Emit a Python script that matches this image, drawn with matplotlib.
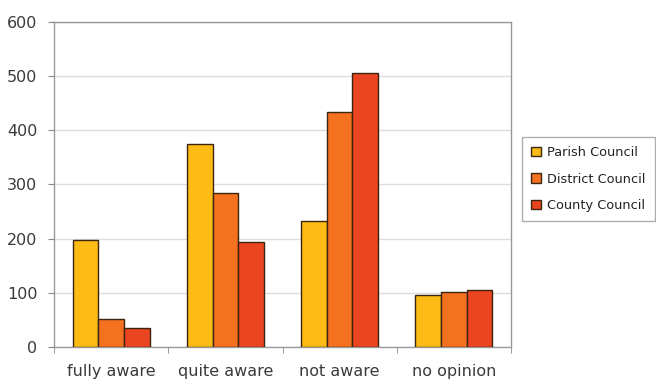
import matplotlib
matplotlib.use("Agg")
import matplotlib.pyplot as plt
import numpy as np

categories = ["fully aware", "quite aware", "not aware", "no opinion"]
series_names = ["Parish Council", "District Council", "County Council"]
parish = [198, 374, 233, 96]
district = [51, 285, 433, 102]
county = [35, 194, 506, 106]
yticks = [0, 100, 200, 300, 400, 500, 600]

colors = ["#FDBB16", "#F4711F", "#EA4420"]
edge = "#3B2410"

plt.rcParams['font.family'] = ['DejaVu Sans']

fig = plt.figure(figsize=(6.56, 3.83), dpi=100)
ax = fig.add_axes([54/656, 1-347/383, (511-54)/656, (347-22)/383])

x = np.arange(len(categories))
w = 0.225
for i, (vals, name) in enumerate(zip([parish, district, county], series_names)):
    ax.bar(x + (i-1)*w, vals, width=w, color=colors[i], edgecolor=edge,
           linewidth=1.0, label=name, zorder=3)

ax.set_xlim(-0.5, len(categories)-0.5)
ax.set_ylim(0, 600)
ax.set_yticks(yticks)
ax.set_yticklabels([str(v) for v in yticks], fontsize=11.5, color="#3a3a3a")
ax.set_xticks(x)
ax.set_xticklabels(categories, fontsize=11.5, color="#3a3a3a")
ax.set_xticks(np.arange(-0.5, len(categories)), minor=True)
ax.tick_params(axis='x', which='major', length=0, pad=12)
ax.tick_params(axis='x', which='minor', length=4, color="#888888")
ax.tick_params(axis='y', length=4, color="#888888", pad=8)
ax.yaxis.grid(True, color="#DDDDDD", linewidth=1.0, zorder=0)
for s in ax.spines.values():
    s.set_color("#999999")
    s.set_linewidth(1.0)

leg = ax.legend(loc='upper left', bbox_to_anchor=(522/656, 1-137/383),
                bbox_transform=fig.transFigure, prop={'size': 9.3},
                frameon=True, fancybox=False, edgecolor="#999999",
                handlelength=0.75, handleheight=0.75, handletextpad=0.5,
                borderpad=0.7, labelspacing=1.05, borderaxespad=0)
leg.get_frame().set_linewidth(1.0)
for t in leg.get_texts():
    t.set_color("#222222")

fig.savefig("out.png", dpi=100)
